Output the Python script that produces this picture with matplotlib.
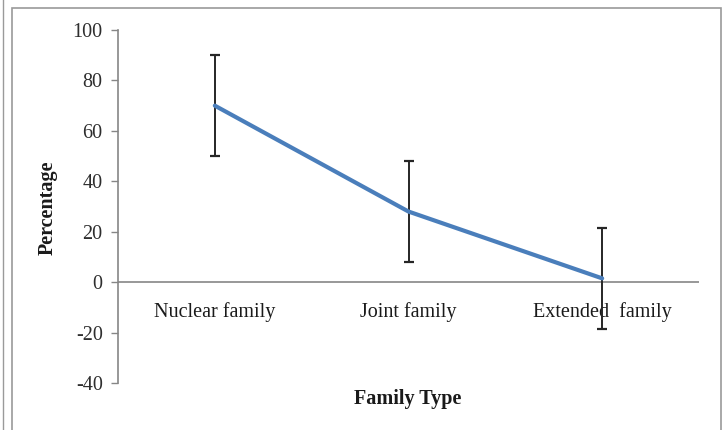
import matplotlib
matplotlib.use("Agg")
import matplotlib.pyplot as plt
from matplotlib.patches import Rectangle
from matplotlib.lines import Line2D

# Share of respondents by family type, with error margins
categories = ["Nuclear family", "Joint family", "Extended  family"]
percentages = [70, 28, 1.5]
errors = [20, 20, 20]
y_ticks = [-40, -20, 0, 20, 40, 60, 80, 100]

W, H = 726, 430
fig = plt.figure(figsize=(W / 100, H / 100), dpi=100)
fig.patch.set_facecolor("white")

plt.rcParams["font.family"] = ["Liberation Serif", "DejaVu Serif"]
FS = 14.5

# chart frame and page edge
fig.add_artist(Rectangle((12 / W, -0.05), (721 - 12) / W, 1.05 - 8 / H,
                         transform=fig.transFigure, fill=False,
                         edgecolor="#9a9a9a", linewidth=1.2))
fig.add_artist(Line2D([2.5 / W, 2.5 / W], [0, 1], transform=fig.transFigure,
                      color="#9a9a9a", linewidth=1.0))

ax = fig.add_axes([118 / W, 1 - 383 / H, (699 - 118) / W, (383 - 30) / H])
x = list(range(len(categories)))

ax.errorbar(x, percentages, yerr=errors, fmt="none", ecolor="#262626",
            elinewidth=1.4, capsize=3.5, capthick=1.6, zorder=2)
ax.plot(x, percentages, color="#4a7ebb", linewidth=3.0,
        solid_capstyle="round", zorder=3)

ax.set_xlim(-0.5, len(categories) - 0.5)
ax.set_ylim(min(y_ticks), max(y_ticks))
ax.set_yticks(y_ticks)
ax.set_yticklabels([str(v) for v in y_ticks], fontsize=FS, color="#2e2e2e")
ax.tick_params(axis="y", direction="out", length=5, width=1.0,
               color="#868686", pad=6)
ax.set_xticks([])

for s in ["top", "right", "bottom"]:
    ax.spines[s].set_visible(False)
ax.spines["left"].set_color("#868686")
ax.spines["left"].set_linewidth(1.2)
ax.axhline(0, color="#868686", linewidth=1.2, zorder=1)

for xi, name in zip(x, categories):
    ax.annotate(name, (xi, 0), xytext=(0, -30), textcoords="offset pixels",
                ha="center", va="center", fontsize=FS, color="#1a1a1a",
                zorder=1)

fig.text(48 / W, 1 - 208 / H, "Percentage", rotation=90, ha="center",
         va="center", fontsize=FS, fontweight="bold", color="#1a1a1a")
fig.text(408 / W, 1 - 399 / H, "Family Type", ha="center", va="center",
         fontsize=FS, fontweight="bold", color="#1a1a1a")

fig.savefig("out.png", dpi=100, facecolor="white")
